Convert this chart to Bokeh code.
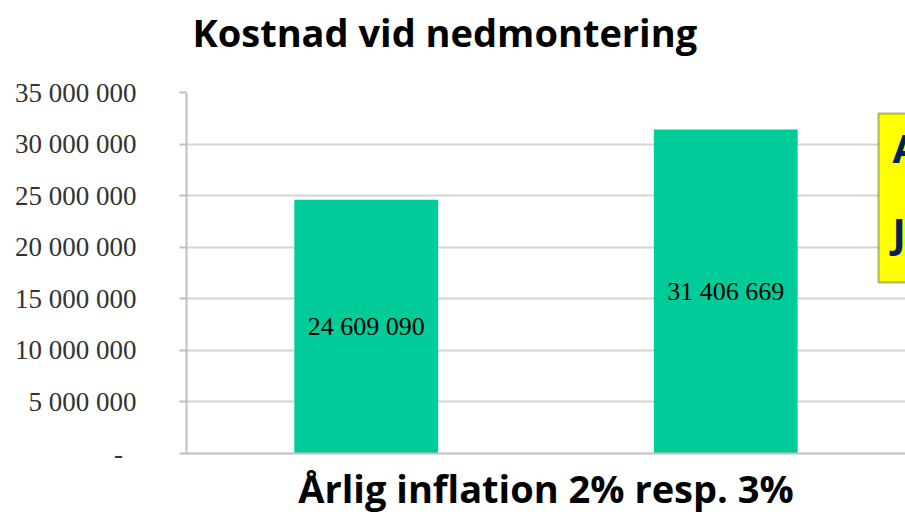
from bokeh.plotting import figure
from bokeh.models import (ColumnDataSource, FactorRange, Range1d, FixedTicker,
                          LabelSet, BoxAnnotation, Label, LinearAxis)
from bokeh.embed import file_html
from bokeh.resources import INLINE

# ---- data ----
categories = ["2 %", "3 %"]
costs = [24609090, 31406669]
cost_labels = ["24 609 090", "31 406 669"]
y_ticks = [0, 5000000, 10000000, 15000000, 20000000, 25000000, 30000000, 35000000]
title_text = "Kostnad vid nedmontering"
x_title = "Årlig inflation 2% resp. 3%"
note_lines = ["A", "J"]


def fmt(v):
    if v == 0:
        return "-\u00a0\u00a0"
    return f"{v:,}".replace(",", " ")


src = ColumnDataSource(dict(cat=categories, cost=costs, lab=cost_labels,
                            mid=[c / 2 for c in costs]))

p = figure(width=905, height=518, x_range=FactorRange(factors=categories, range_padding=0),
           y_range=Range1d(0, 35000000), output_backend="svg", toolbar_location=None,
           x_axis_type=None,
           min_border_left=186, min_border_right=0, min_border_top=92, min_border_bottom=65)

p.vbar(x="cat", top="cost", width=0.40, source=src, fill_color="#00CC99", line_color=None)

p.add_layout(LabelSet(x="cat", y="mid", text="lab", source=src, text_align="center",
                      text_baseline="middle", text_font="Liberation Serif",
                      text_font_size="26px", text_color="#000000"))

p.outline_line_color = None
p.ygrid.grid_line_color = "#d4d4d4"
p.ygrid.grid_line_width = 2

p.yaxis.ticker = FixedTicker(ticks=y_ticks)
p.yaxis.major_label_overrides = {t: fmt(t) for t in y_ticks}
p.yaxis.major_label_text_font = "Liberation Serif"
p.yaxis.major_label_text_font_size = "27px"
p.yaxis.major_label_text_color = "#333333"
p.yaxis.axis_line_color = "#c0c0c0"
p.yaxis.axis_line_width = 2
p.yaxis.major_tick_line_color = "#c0c0c0"
p.yaxis.major_tick_line_width = 2
p.yaxis.major_tick_out = 7
p.yaxis.major_tick_in = 0
p.yaxis.minor_tick_line_color = None
p.yaxis.major_label_standoff = 43

xax = LinearAxis(ticker=FixedTicker(ticks=[]), axis_label=x_title)
xax.axis_line_color = "#c0c0c0"
xax.axis_line_width = 2
xax.major_tick_line_color = None
xax.minor_tick_line_color = None
xax.major_label_standoff = 0
xax.axis_label_text_font = "Open Sans"
xax.axis_label_text_font_style = "bold"
xax.axis_label_text_font_size = "38px"
xax.axis_label_text_color = "#000000"
xax.axis_label_standoff = 8
p.add_layout(xax, "below")

# trailing empty line lifts the title away from the plot area
p.title.text = title_text + "\n"
p.title.text_line_height = 0.63
p.title.align = "left"
p.title.offset = 6
p.title.text_font = "Open Sans"
p.title.text_font_style = "bold"
p.title.text_font_size = "38px"
p.title.text_color = "#000000"
p.title.standoff = 4

p.add_layout(BoxAnnotation(left=878, right=960, top=113, bottom=282,
                           left_units="canvas", right_units="canvas",
                           top_units="canvas", bottom_units="canvas",
                           fill_color="#FFFF00", fill_alpha=1.0,
                           line_color="#000000", line_width=2))
for i, t in enumerate(note_lines):
    p.add_layout(Label(x=892, y=147 + 84 * i, x_units="canvas", y_units="canvas",
                       text=t, text_font="Open Sans", text_font_style="bold",
                       text_font_size="40px", text_color="#002060",
                       text_baseline="alphabetic"))

open("out.html", "w").write(file_html(p, INLINE))
